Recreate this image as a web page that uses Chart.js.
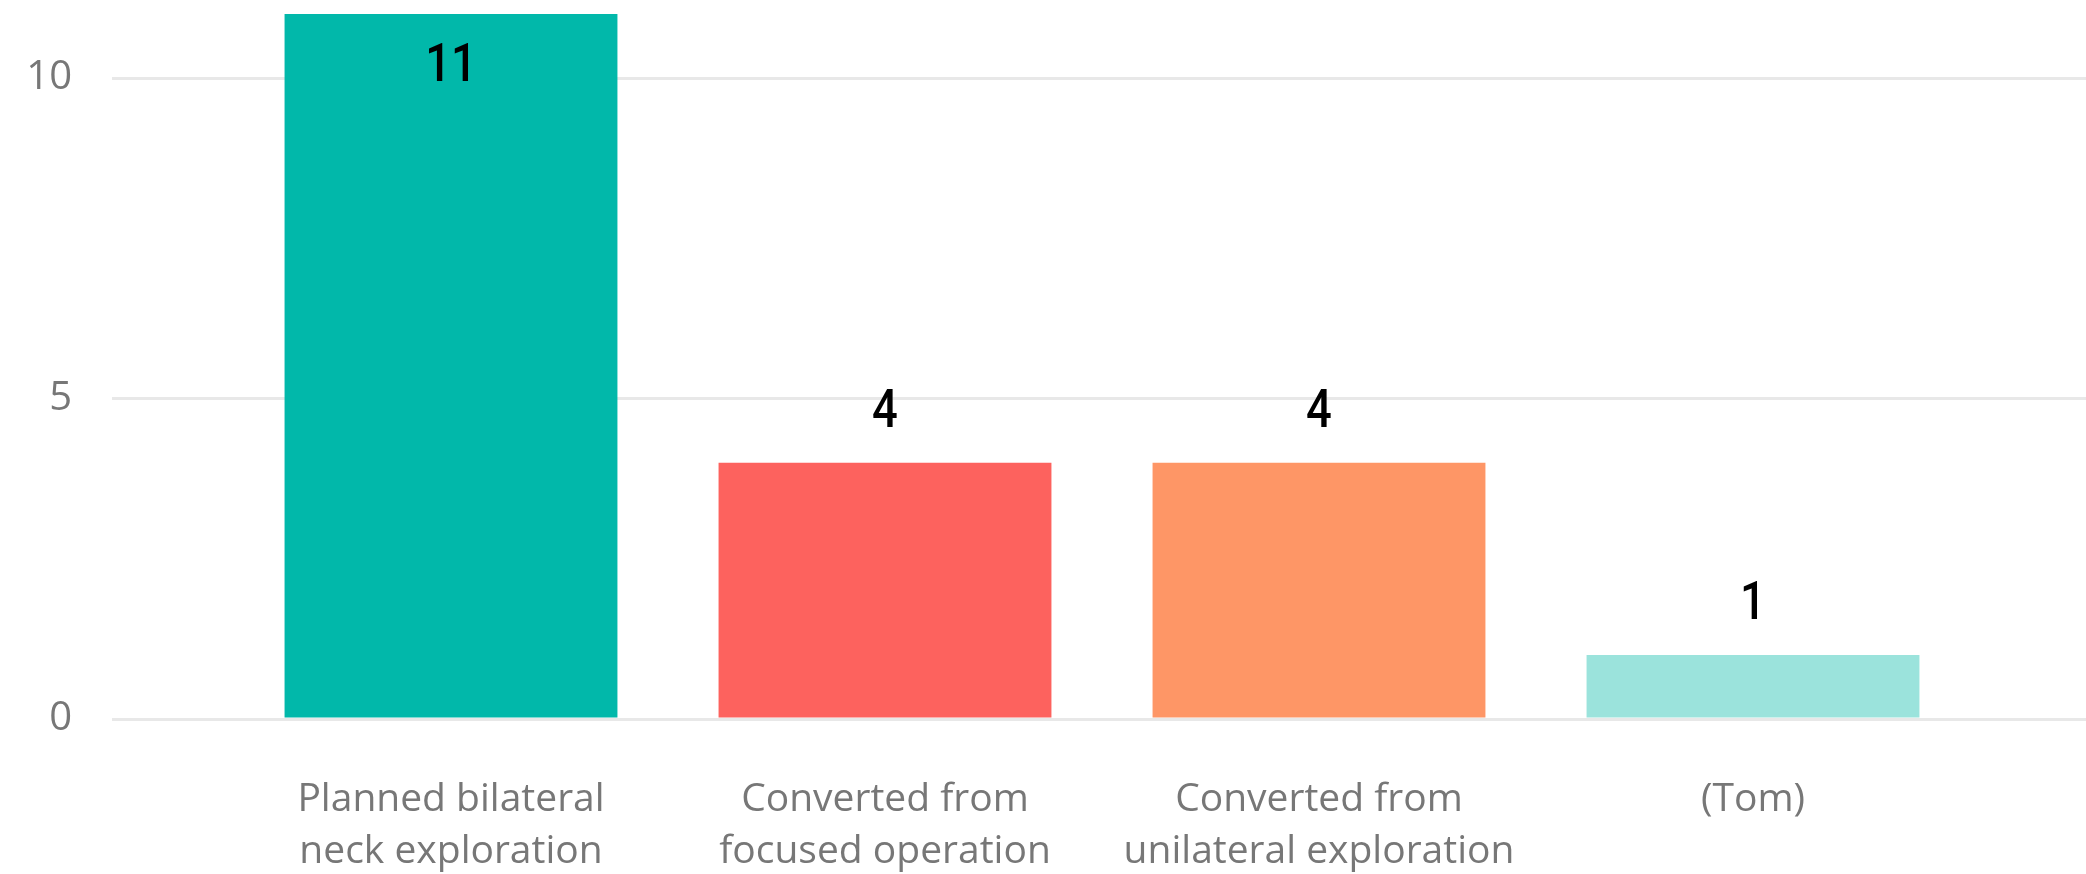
<!DOCTYPE html>
<html>
<head>
<meta charset="utf-8">
<title>Bilateral neck exploration</title>
<script src="https://cdn.jsdelivr.net/npm/chart.js@4.4.1/dist/chart.umd.min.js"></script>
<style>
    body { margin: 0; background: #ffffff; }
    #wrap { width: 2086px; height: 874px; }
</style>
</head>
<body>
<div id="wrap"><canvas id="graph" width="2086" height="874"></canvas></div>
<script>
//categories (multi line labels)
const categories = [
    ["Planned bilateral", "neck exploration"],
    ["Converted from", "focused operation"],
    ["Converted from", "unilateral exploration"],
    "(Tom)"
];

//number of cases
const counts = [11, 4, 4, 1];

//bar colours
const barColors = ["#01B8AA", "#FD625E", "#FE9666", "#9BE3DC"];

//y axis range
const yMin = 0;
const yMax = 11;
const yStep = 5;

/**********/
//draw the value above each bar, inside when it would leave the plot
const valueLabels =
{
    id: "valueLabels",
    afterDatasetsDraw(chart)
    {
        let ctx = chart.ctx;
        let meta = chart.getDatasetMeta(0);

        for(let i=0; i<meta.data.length; i++)
        {
            let bar = meta.data[i];
            let y = bar.y - 49;

            if(y - 20 < chart.chartArea.top) { y = bar.y + 53; }

            //narrow digits, closer to the original condensed face
            ctx.save();
            ctx.font = "500 54px Roboto";
            ctx.fillStyle = "#000000";
            ctx.textAlign = "center";
            ctx.textBaseline = "middle";
            ctx.translate(bar.x, y);
            ctx.scale(0.84, 1);
            ctx.fillText(String(counts[i]), 0, 0);
            ctx.restore();
        }
    }
};

/**********/
//fixed axis width, no extra room for the edge labels
function fixWidth(width)
{
    return function(scale)
    {
        scale.width = width;
        scale.paddingTop = 0;
        scale.paddingBottom = 0;
    };
}

/**********/
function displayGraph()
{
    const ctx = document.getElementById("graph");

    window.graph = new Chart(ctx,
    {
        type: "bar",

        data:
        {
            labels: categories,
            datasets: [ {
                data: counts,
                backgroundColor: barColors,
                borderWidth: 0,
                categoryPercentage: 1.0,
                barPercentage: 0.767
            } ]
        },

        options:
        {
            responsive: false,
            animation: false,
            layout: { autoPadding: false, padding: { top: 14, left: 0, right: 0, bottom: 0 } },
            plugins: { legend: { display: false }, tooltip: { enabled: false } },

            scales:
            {
                x:
                {
                    grid: { display: false, drawTicks: false },
                    border: { display: false },
                    ticks:
                    {
                        color: "#777777",
                        font: { family: "'Open Sans'", size: 39, lineHeight: 1.33 },
                        padding: 55,
                        maxRotation: 0,
                        autoSkip: false
                    },
                    afterFit: function(scale) { scale.height = 155; }
                },

                y:
                {
                    position: "left",
                    min: yMin,
                    max: yMax,
                    grid: { color: "#E8E8E8", lineWidth: 3, tickLength: 122 },
                    border: { display: false },
                    ticks:
                    {
                        stepSize: yStep,
                        includeBounds: false,
                        color: "#777777",
                        font: { family: "'Open Sans'", size: 40 },
                        padding: 40
                    },
                    afterFit: fixWidth(234)
                },

                //right axis only stretches the grid lines to the edge
                y2:
                {
                    position: "right",
                    min: yMin,
                    max: yMax,
                    grid: { color: "#E8E8E8", lineWidth: 3, tickLength: 116, drawOnChartArea: false },
                    border: { display: false },
                    ticks: { stepSize: yStep, includeBounds: false, display: false },
                    afterFit: fixWidth(116)
                }
            }
        },

        plugins: [valueLabels]
    });
}

displayGraph();
</script>
</body>
</html>
